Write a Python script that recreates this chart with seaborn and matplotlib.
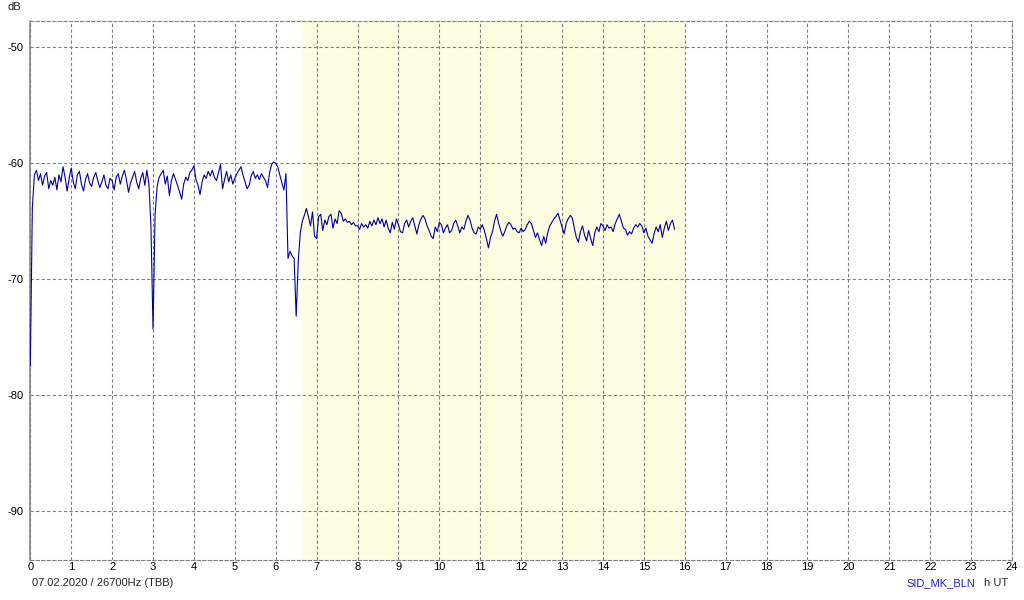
import numpy as np
import pandas as pd
import seaborn as sns
import matplotlib.pyplot as plt

# Sinal SID 26700 Hz (TBB), amostras a cada 0.05 h a partir de 0 h UT
t_inicio = 0.0
t_passo = 0.05
sinal_db = [
    # 0 h
    -77.5, -63.8, -61.0, -60.6, -61.5, -60.9, -61.9, -61.1, -60.8, -62.2,
    -61.5, -61.9, -61.2, -62.3, -61.0, -61.6, -60.3, -61.2, -62.4, -61.3,
    # 1 h
    -60.4, -61.6, -62.2, -61.0, -60.7, -61.8, -62.4, -61.4, -60.9, -61.7,
    -62.0, -61.2, -60.8, -61.5, -62.1, -61.6, -61.0, -61.9, -62.2, -61.3,
    # 2 h
    -61.5, -62.3, -61.2, -60.9, -61.8, -61.1, -60.6, -61.4, -62.5, -61.7,
    -61.2, -60.7, -61.6, -62.2, -61.3, -60.8, -61.9, -60.6, -61.8, -65.5,
    # 3 h
    -74.3, -64.5, -62.0, -61.2, -60.9, -60.6, -61.8, -61.1, -62.8, -61.5,
    -60.9, -61.4, -61.9, -62.5, -63.1, -61.8, -61.2, -61.5, -60.8, -60.6,
    # 4 h
    -60.2, -61.4, -61.9, -62.7, -61.6, -61.0, -61.3, -60.7, -61.1, -60.6,
    -61.2, -61.5, -60.8, -60.1, -62.2, -61.4, -60.7, -61.6, -61.0, -61.8,
    # 5 h
    -61.3, -60.9, -60.6, -60.3, -61.0, -61.6, -62.2, -61.9, -61.1, -60.7,
    -61.3, -61.0, -61.4, -60.9, -61.2, -61.5, -62.1, -60.8, -60.1, -59.9,
    # 6 h
    -60.0, -60.3, -61.0, -61.7, -62.3, -60.9, -68.2, -67.6, -68.0, -68.2,
    -73.2, -68.5, -66.0, -65.0, -64.5, -63.9, -64.6, -65.4, -64.2, -66.3,
    # 7 h
    -66.5, -64.6, -64.4, -65.8, -64.9, -65.3, -64.6, -64.4, -65.6, -64.8,
    -65.2, -64.1, -64.3, -65.0, -64.8, -65.1, -65.0, -65.3, -65.1, -65.4,
    # 8 h
    -65.4, -65.7, -65.2, -65.5, -65.3, -65.6, -65.0, -65.4, -64.9, -65.3,
    -64.7, -65.2, -64.8, -65.5, -64.9, -65.6, -66.0, -65.1, -65.7, -64.8,
    # 9 h
    -65.3, -65.9, -66.0, -65.2, -64.9, -65.5, -65.0, -64.7, -65.4, -66.1,
    -65.3, -64.8, -64.5, -64.8, -65.4, -65.8, -66.3, -66.5, -65.5, -65.9,
    # 10 h
    -65.1, -65.3, -66.0, -65.6, -65.3, -66.0, -65.8, -65.2, -64.9, -65.4,
    -66.0, -65.5, -65.7, -65.0, -64.5, -64.9, -65.6, -66.0, -66.1, -65.5,
    # 11 h
    -65.7, -65.3, -65.8, -66.5, -67.3, -66.4, -65.9, -65.0, -64.4, -65.2,
    -65.8, -66.3, -65.9, -65.4, -65.1, -65.3, -65.7, -65.6, -65.9, -66.0,
    # 12 h
    -65.6, -65.9, -65.7, -65.3, -65.0, -65.2, -65.8, -66.4, -66.0, -66.6,
    -67.1, -66.3, -66.9, -66.0, -65.4, -65.1, -64.8, -64.6, -64.3, -64.9,
    # 13 h
    -65.5, -66.1, -65.2, -64.8, -64.5, -64.7, -65.6, -66.4, -66.8, -65.9,
    -65.4, -66.2, -66.7, -65.8, -66.5, -67.1, -66.0, -65.5, -65.9, -65.2,
    # 14 h
    -65.4, -65.8, -65.3, -65.6, -65.5, -65.9, -65.2, -64.8, -64.4, -65.0,
    -65.6, -65.7, -66.2, -65.9, -66.1, -65.6, -65.3, -65.5, -65.2, -65.4,
    # 15 h
    -66.0, -65.6, -66.3, -66.6, -66.9, -66.1, -65.5, -65.9, -65.3, -66.4,
    -65.6, -65.0, -65.8, -65.2, -64.9, -65.7,
]

# Periodo diurno (sombreado amarelo), em h UT
dia_inicio = 6.62
dia_fim = 16.0

horas_ticks = list(range(0, 25))
db_ticks = [-90, -80, -70, -60, -50]

df = pd.DataFrame({
    'hora': t_inicio + np.arange(len(sinal_db)) * t_passo,
    'dB': sinal_db,
})

sns.set_theme(style='white')
plt.rcParams['font.family'] = ['Liberation Sans', 'DejaVu Sans']
plt.rcParams['axes.unicode_minus'] = False

fig = plt.figure(figsize=(10.24, 6), dpi=100)
ax = fig.add_axes([30.3 / 1024, 1 - 560 / 600, (1012 - 30.3) / 1024, (560 - 20.7) / 600])

ax.axvspan(dia_inicio, dia_fim, color='#fffde1', zorder=0, lw=0)
sns.lineplot(data=df, x='hora', y='dB', ax=ax, color='#0000a0', linewidth=0.8, zorder=3)

ax.set_xlim(0, 24)
ax.set_ylim(-94.23, -47.7)
ax.set_xticks(horas_ticks)
ax.set_yticks(db_ticks)
ax.set_xlabel('')
ax.set_ylabel('')
ax.tick_params(axis='both', length=0, labelsize=8, colors='#000000')
ax.tick_params(axis='x', pad=1.5)
ax.tick_params(axis='y', pad=5)
ax.grid(True, linestyle=(0, (3, 2)), color='#808080', linewidth=0.8, zorder=1)

for lado in ['top', 'bottom', 'right']:
    ax.spines[lado].set_linestyle((0, (3, 2)))
    ax.spines[lado].set_color('#808080')
    ax.spines[lado].set_linewidth(0.8)
ax.spines['left'].set_color('#808080')
ax.spines['left'].set_linewidth(1.1)

fig.text(7 / 1024, 1 - 7.5 / 600, 'dB', fontsize=8, va='center', ha='left')
fig.text(32 / 1024, 1 - 583 / 600, '07.02.2020 / 26700Hz (TBB)', fontsize=8, va='center', ha='left')
fig.text(906 / 1024, 1 - 583 / 600, 'SID_MK_BLN', fontsize=8, va='center', ha='left', color='#2020c0')
fig.text(984 / 1024, 1 - 583 / 600, 'h UT', fontsize=8, va='center', ha='left')

fig.savefig('out.png', dpi=100)
